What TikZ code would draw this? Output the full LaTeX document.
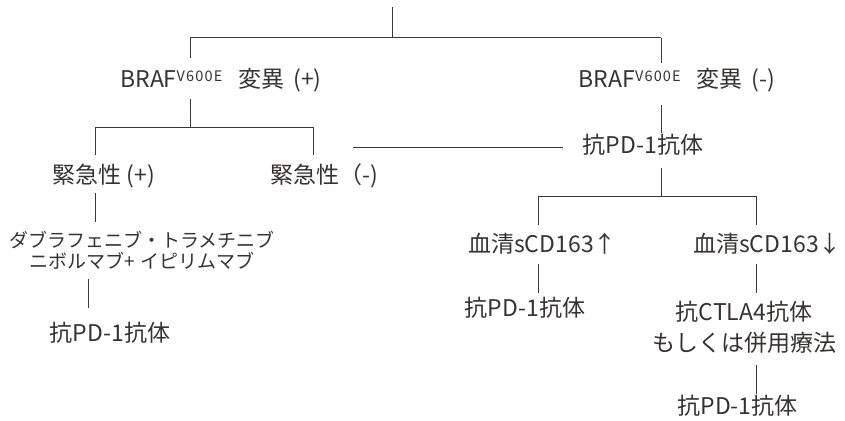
\documentclass[tikz,border=0pt]{standalone}
\usepackage{fontspec}
\setmainfont{Noto Sans CJK JP}
\definecolor{ink}{RGB}{55,50,50}
\definecolor{wire}{RGB}{60,54,54}
\tikzset{
  lbl/.style={anchor=base, inner sep=0pt, outer sep=0pt, text=ink, font=\fontsize{23}{28}\selectfont},
  small/.style={anchor=base, inner sep=0pt, outer sep=0pt, text=ink, align=center, font=\fontsize{19}{21}\selectfont},
  two/.style={anchor=base, inner sep=0pt, outer sep=0pt, text=ink, align=center, font=\fontsize{23}{30.5}\selectfont},
  wirel/.style={draw=wire, line width=1pt}
}
\newcommand{\supV}{\raisebox{6pt}{\fontsize{14.5}{15}\selectfont\addfontfeatures{LetterSpace=8}V600E}}
\begin{document}
\begin{tikzpicture}[x=1pt,y=-1pt]
\useasboundingbox (0,0) rectangle (845,420);
% text nodes
\node[lbl] (brafp) at (221,87.5) {BRAF\supV\hspace*{16pt}変異\hspace*{9pt}(+)};
\node[lbl] (brafm) at (677,87.5) {BRAF\supV\hspace*{16pt}変異\hspace*{9pt}(-)};
\node[lbl] (pdtop) at (643,153) {抗PD-1抗体};
\node[lbl] (urgp) at (104,183) {緊急性 (+)};
\node[lbl] (urgm) at (324,183) {緊急性（-)};
\node[small] (dab) at (142,268) {ダブラフェニブ・トラメチニブ\\ニボルマブ+\hspace*{5pt}イピリムマブ};
\node[lbl] (pdl) at (110,341) {抗PD-1抗体};
\node[lbl] (sup) at (542.5,252) {血清sCD163↑};
\node[lbl] (sdn) at (767.5,252) {血清sCD163↓};
\node[lbl] (pdm) at (525,316) {抗PD-1抗体};
\node[two] (ctla) at (744,351) {抗CTLA4抗体\\もしくは併用療法};
\node[lbl] (pdb) at (737.5,414) {抗PD-1抗体};
% junction coordinates
\coordinate (r0) at (392,7);
\coordinate (r1) at (392,38);
\coordinate (hL) at (190,38);
\coordinate (hR) at (661,38);
\coordinate (bpT) at (190,58);
\coordinate (bmT) at (661,63);
\coordinate (bpB) at (190,99);
\coordinate (bpJ) at (190,127);
\coordinate (uL) at (95,127);
\coordinate (uR) at (313,127);
\coordinate (upT) at (95,155);
\coordinate (umT) at (313,155);
\coordinate (upB) at (95,193);
\coordinate (dT) at (95,222);
\coordinate (dB) at (88,279);
\coordinate (pdlT) at (88,308);
\coordinate (umR) at (353,147);
\coordinate (pdtL) at (563,147);
\coordinate (bmB) at (661,105);
\coordinate (pdtT) at (661,133);
\coordinate (pdtB) at (661,168);
\coordinate (sJ) at (661,196);
\coordinate (sL) at (538,196);
\coordinate (sR) at (756,196);
\coordinate (supT) at (538,225);
\coordinate (sdnT) at (756,225);
\coordinate (supB) at (538,264);
\coordinate (pdmT) at (538,293);
\coordinate (sdnB) at (756,264);
\coordinate (ctlaT) at (756,293);
\coordinate (ctlaB) at (756,365);
\coordinate (pdbT) at (756,394);
% connectors
\draw[wirel] (r0) -- (r1);
\draw[wirel] (hL) -- (hR);
\draw[wirel] (hL) -- (bpT);
\draw[wirel] (hR) -- (bmT);
\draw[wirel] (bpB) -- (bpJ);
\draw[wirel] (uL) -- (uR);
\draw[wirel] (uL) -- (upT);
\draw[wirel] (uR) -- (umT);
\draw[wirel] (upB) -- (dT);
\draw[wirel] (dB) -- (pdlT);
\draw[wirel] (umR) -- (pdtL);
\draw[wirel] (bmB) -- (pdtT);
\draw[wirel] (pdtB) -- (sJ);
\draw[wirel] (sL) -- (sR);
\draw[wirel] (sL) -- (supT);
\draw[wirel] (sR) -- (sdnT);
\draw[wirel] (supB) -- (pdmT);
\draw[wirel] (sdnB) -- (ctlaT);
\draw[wirel] (ctlaB) -- (pdbT);
\end{tikzpicture}
\end{document}
